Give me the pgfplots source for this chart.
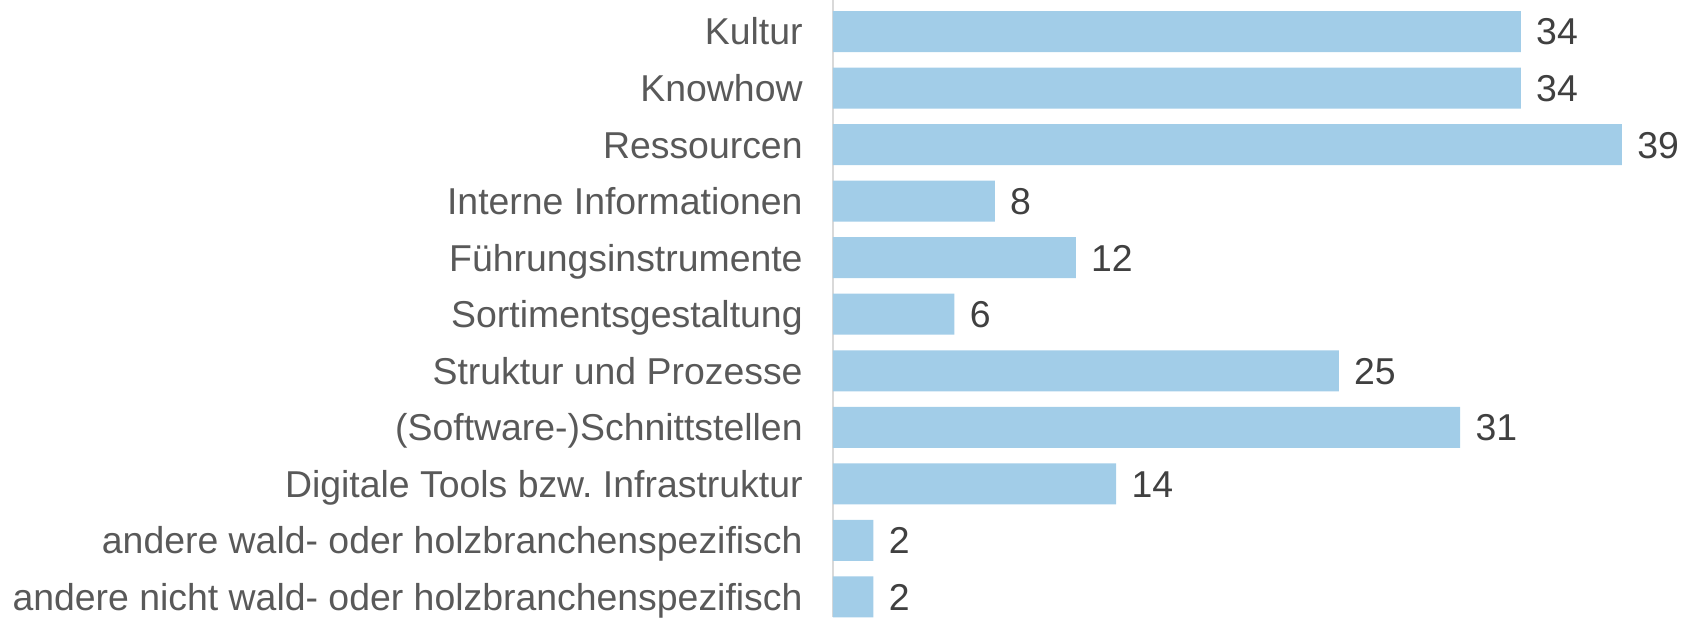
\documentclass[border=0pt]{standalone}
\usepackage{fontspec}
\setmainfont{Liberation Sans}
\usepackage{pgfplots}
\pgfplotsset{compat=1.18}
\definecolor{barblue}{HTML}{A2CDE8}
\definecolor{labgray}{HTML}{595959}
\definecolor{valgray}{HTML}{404040}
\definecolor{linegray}{HTML}{D9D9D9}
\newcommand{\chf}{\fontsize{18.7}{22}\selectfont}
\frenchspacing
\begin{document}
\begin{tikzpicture}
\begin{axis}[
  name=ax,
  xbar,
  scale only axis,
  width=429.5pt, height=308.5pt,
  xmin=0, xmax=42.46,
  ymin=-0.557, ymax=10.354,
  y dir=reverse,
  bar width=0.725,
  axis x line=none,
  axis y line*=left,
  y axis line style={draw=linegray, line width=1pt},
  ytick=data,
  yticklabels={Kultur,Knowhow,Ressourcen,Interne Informationen,Führungsinstrumente,Sortimentsgestaltung,Struktur und Prozesse,(Software-)Schnittstellen,Digitale Tools bzw. Infrastruktur,andere wald- oder holzbranchenspezifisch,andere nicht wald- oder holzbranchenspezifisch},
  major tick length=0pt,
  ytick style={draw=none},
  yticklabel style={font=\chf, text=labgray, inner sep=0pt, anchor=base east, xshift=-15pt, yshift=-6.7pt},
  /pgf/number format/assume math mode=true,
  nodes near coords={\pgfmathprintnumber[assume math mode=true]{\pgfplotspointmeta}},
  nodes near coords style={font=\chf, text=valgray, inner sep=0pt, anchor=base west, xshift=7.5pt, yshift=-6.7pt},
  clip=false,
]
\addplot[fill=barblue, draw=none] coordinates {
(34,0) (34,1) (39,2) (8,3) (12,4) (6,5) (25,6) (31,7) (14,8) (2,9) (2,10)
};
\end{axis}
\pgfresetboundingbox
\path (ax.south east) rectangle ([xshift=-846pt]ax.north east);
\end{tikzpicture}
\end{document}
